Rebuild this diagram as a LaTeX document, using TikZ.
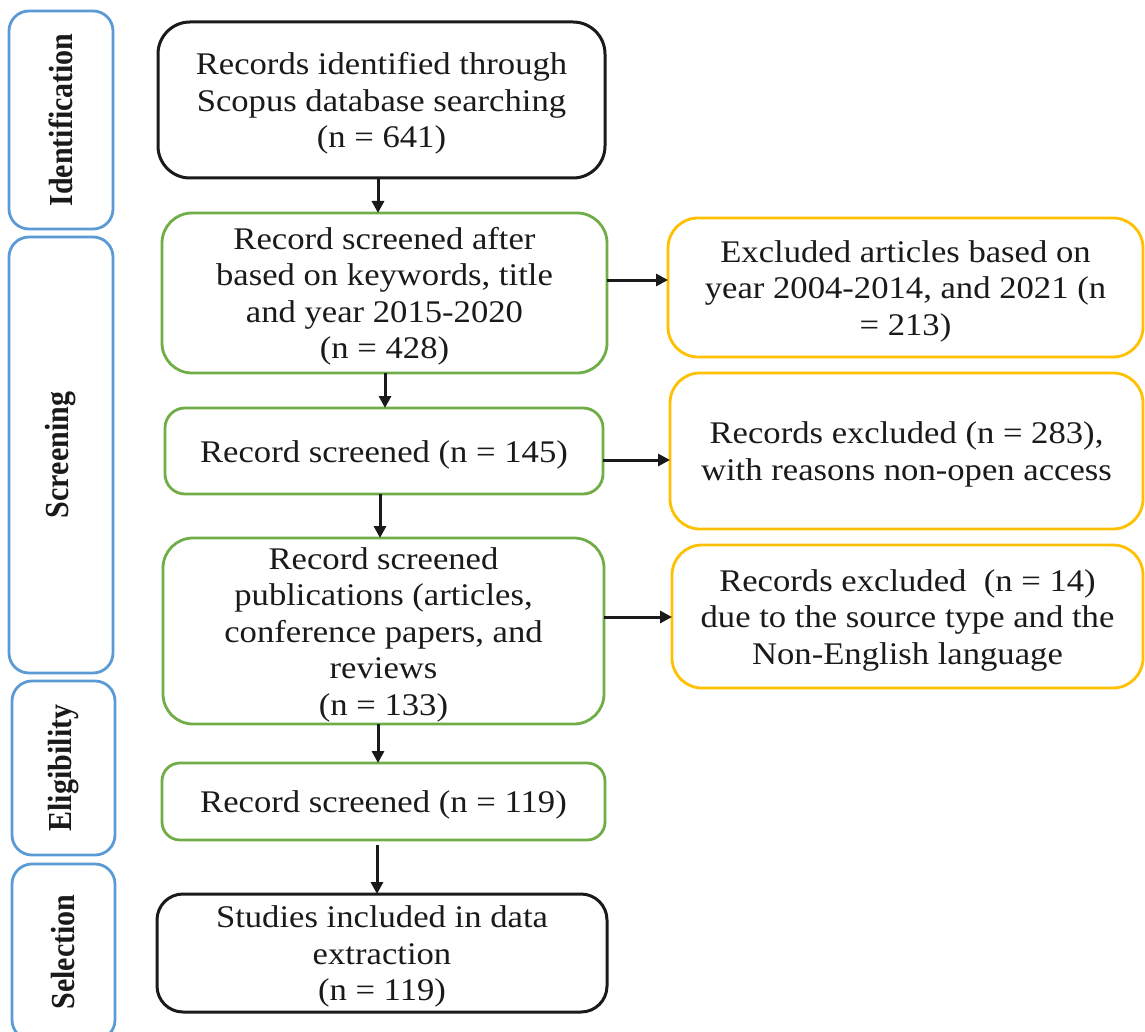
\documentclass[tikz,border=0pt]{standalone}
\usepackage{fontspec}
\setmainfont{Liberation Serif}[FakeStretch=1.1]
\newfontfamily\sidefont{Liberation Serif}
\usepackage{graphicx}
\usetikzlibrary{arrows.meta}
\definecolor{sideblue}{HTML}{5B9BD5}
\definecolor{boxgreen}{HTML}{70AD47}
\definecolor{boxyellow}{HTML}{FFC000}
\definecolor{boxblack}{HTML}{1A1A1A}
\newcommand\firststrut{\rule{0pt}{29pt}}
\begin{document}
\begin{tikzpicture}[x=1pt,y=-1pt,
  base/.style={draw, rectangle, line width=2.8pt, inner sep=0pt, outer sep=0pt,
    align=center, font=\fontsize{31.5}{36.5}\selectfont, text=boxblack},
  blackbox/.style={base, draw=boxblack, line width=3pt},
  greenbox/.style={base, draw=boxgreen},
  yellowbox/.style={base, draw=boxyellow, rounded corners=30pt},
  sidebox/.style={draw=sideblue, line width=2.8pt, rectangle, rounded corners=20pt,
    inner sep=0pt, outer sep=0pt, text=boxblack,
    font=\sidefont\bfseries\fontsize{30}{34}\selectfont},
  arr/.style={line width=3pt, draw=boxblack, -{Triangle[length=12pt,width=12pt]}}
]
\useasboundingbox (0,0) rectangle (1145,1032);
\fill[white] (0,0) rectangle (1145,1032);
\clip (0,0) rectangle (1145,1032);

% stage boxes
\node[sidebox, minimum width=104pt, minimum height=218pt] (s1) at (61,120)
  {\rotatebox{90}{\scalebox{1}[1.12]{Identification}}};
\node[sidebox, minimum width=104pt, minimum height=436pt] (s2) at (61,455)
  {\rotatebox{90}{\scalebox{1}[1.12]{Screening}}};
\node[sidebox, minimum width=103pt, minimum height=174pt] (s3) at (63.5,768)
  {\rotatebox{90}{\scalebox{1}[1.12]{Eligibility}}};
\node[sidebox, minimum width=103pt, minimum height=176pt] (s4) at (63.5,952)
  {\rotatebox{90}{\scalebox{1}[1.12]{Selection}}};

% main column
\node[blackbox, rounded corners=32pt, minimum width=447pt, minimum height=156pt] (b1) at (381.5,100)
  {\firststrut Records identified through\\Scopus database searching\\(n = 641)};
\node[greenbox, rounded corners=30pt, minimum width=445pt, minimum height=160pt] (b2) at (384.5,293)
  {\firststrut Record screened after\\based on keywords, title\\and year 2015-2020\\(n = 428)};
\node[greenbox, rounded corners=20pt, minimum width=438pt, minimum height=86pt] (b3) at (384,451)
  {\firststrut Record screened (n = 145)};
\node[greenbox, rounded corners=30pt, minimum width=441pt, minimum height=186pt] (b4) at (383.5,631)
  {\firststrut Record screened\\publications (articles,\\conference papers, and\\reviews\\(n = 133)};
\node[greenbox, rounded corners=18pt, minimum width=443pt, minimum height=77pt] (b5) at (383.5,801.5)
  {\firststrut Record screened (n = 119)};
\node[blackbox, rounded corners=26pt, minimum width=450pt, minimum height=118pt] (b6) at (382,953)
  {\firststrut Studies included in data\\extraction\\(n = 119)};

% exclusion column
\node[yellowbox, minimum width=475pt, minimum height=139pt] (r1) at (905.5,287.5)
  {\firststrut Excluded articles based on\\year 2004-2014, and 2021 (n\\= 213)};
\node[yellowbox, minimum width=473pt, minimum height=156pt] (r2) at (906.5,451)
  {\firststrut Records excluded (n = 283),\\with reasons non-open access};
\node[yellowbox, minimum width=471pt, minimum height=143pt] (r3) at (907.5,616.5)
  {\firststrut Records excluded\ \ (n = 14)\\due to the source type and the\\Non-English language};

% vertical arrows
\draw[arr] ([xshift=-3.5pt]b1.south) -- ([xshift=-6.5pt]b2.north);
\draw[arr] ([xshift=0.5pt]b2.south) -- ([xshift=1pt]b3.north);
\draw[arr] ([xshift=-4pt]b3.south) -- ([xshift=-3.5pt]b4.north);
\draw[arr] ([xshift=-5.5pt]b4.south) -- ([xshift=-5.5pt]b5.north);
\draw[arr, shorten <=5pt] ([xshift=-6.5pt]b5.south) -- ([xshift=-5pt]b6.north);

% horizontal arrows
\draw[arr] ([yshift=13pt]b2.east) -- ([yshift=13pt]b2.east -| r1.west);
\draw[arr] ([yshift=-9pt]b3.east) -- ([yshift=-9pt]b3.east -| r2.west);
\draw[arr] ([yshift=14pt]b4.east) -- ([yshift=14pt]b4.east -| r3.west);
\end{tikzpicture}
\end{document}
